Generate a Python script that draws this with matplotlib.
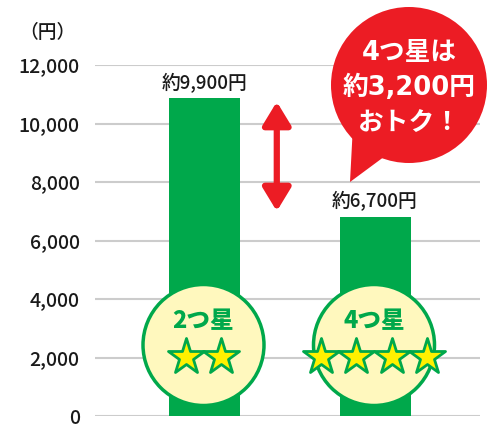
import matplotlib
matplotlib.use('Agg')
import matplotlib.pyplot as plt
from matplotlib.patches import Ellipse, Polygon, FancyArrowPatch
from matplotlib.markers import MarkerStyle

# data
categories = ['2つ星', '4つ星']
values = [10880, 6820]
price_labels = ['約9,900円', '約6,700円']
star_counts = [2, 4]
yticks = [0, 2000, 4000, 6000, 8000, 10000, 12000]
ytick_labels = ['0', '2,000', '4,000', '6,000', '8,000', '10,000', '12,000']
bubble_text = '4つ星は\n約3,200円\nおトク！'

GREEN = '#00A84B'
RED = '#EC1C24'
PALE = '#FFF8BE'
STAR = '#FFF100'

plt.rcParams['font.family'] = ['Noto Sans CJK JP', 'DejaVu Sans']

W, H = 492, 438
fig = plt.figure(figsize=(W / 100, H / 100), dpi=100)
# axes from gridline extents (pixels): x 95..480, y 65..416
ax = fig.add_axes([95 / W, (H - 416) / H, 385 / W, 351 / H])

px_x = 170.5  # pixels per x unit
xmin = -(204.5 - 95) / px_x
xmax = 1 + (480 - 375) / px_x
ax.set_xlim(xmin, xmax)
ax.set_ylim(0, 12000)
py = 12000 / 351  # data per pixel in y
dx = 1 / px_x     # data per pixel in x

x = list(range(len(categories)))
ax.bar(x, values, width=71 * dx, color=GREEN, zorder=2)

ax.set_yticks(yticks)
ax.set_yticklabels(ytick_labels)
ax.tick_params(axis='y', length=0, pad=11, labelsize=14, labelcolor='#1a1a1a')
for t in ax.get_yticklabels():
    t.set_fontweight('medium')
ax.set_xticks([])
ax.grid(axis='y', color='#CCCCCC', linewidth=1.5, zorder=0)
ax.set_axisbelow(True)
for s in ax.spines.values():
    s.set_visible(False)

fig.text(47 / W, 1 - 32 / H, '（円）', ha='center', va='center', fontsize=13.5,
         fontweight='medium', color='#1a1a1a')

# price labels above bars
for xi, v, lab in zip(x, values, price_labels):
    ax.text(xi, v + 5 * py, lab, ha='center', va='bottom', fontsize=13.5,
            fontweight='medium', color='#1a1a1a')

# badges with stars
star_marker = MarkerStyle('*', joinstyle='round')
for xi, cat, n in zip(x, categories, star_counts):
    cx = xi - 1 * dx
    ax.add_patch(Ellipse((cx, (416 - 345) * py), 2 * 60.5 * dx, 2 * 60.5 * py,
                         facecolor=PALE, edgecolor=GREEN, linewidth=2.5, zorder=3))
    ax.text(cx, (416 - 321) * py, cat, ha='center', va='center', fontsize=17,
            fontweight='black', color=GREEN, zorder=4)
    sx = [cx + (i - (n - 1) / 2) * 35.5 * dx for i in range(n)]
    ax.plot(sx, [(416 - 357) * py] * n, linestyle='none', marker=star_marker,
            markersize=27, markerfacecolor=STAR, markeredgecolor=GREEN,
            markeredgewidth=2, zorder=5, clip_on=False)

# difference arrow
arr = FancyArrowPatch((0.424, (416 - 99) * py), (0.424, (416 - 214) * py),
                      arrowstyle='<|-|>,head_length=14,head_width=8.5',
                      mutation_scale=1, color=RED, linewidth=4.5, zorder=4)
ax.add_patch(arr)

# speech bubble
bcx, bcy = (409 - 204.5) * dx, (416 - 85) * py
ax.add_patch(Ellipse((bcx, bcy), 2 * 78 * dx, 2 * 78 * py, facecolor=RED,
                     edgecolor='none', zorder=5, clip_on=False))
tail = [((350 - 204.5) * dx, (416 - 182) * py),
        ((353 - 204.5) * dx, (416 - 125) * py),
        ((400 - 204.5) * dx, (416 - 145) * py)]
ax.add_patch(Polygon(tail, closed=True, facecolor=RED, edgecolor='none',
                     zorder=5, clip_on=False))
ax.text(bcx, (416 - 88) * py, bubble_text, ha='center', va='center',
        fontsize=18.5, fontweight='bold', color='white', linespacing=1.45,
        family=['DejaVu Sans', 'Noto Sans CJK JP'], zorder=6, clip_on=False)

fig.savefig('out.png', dpi=100)
